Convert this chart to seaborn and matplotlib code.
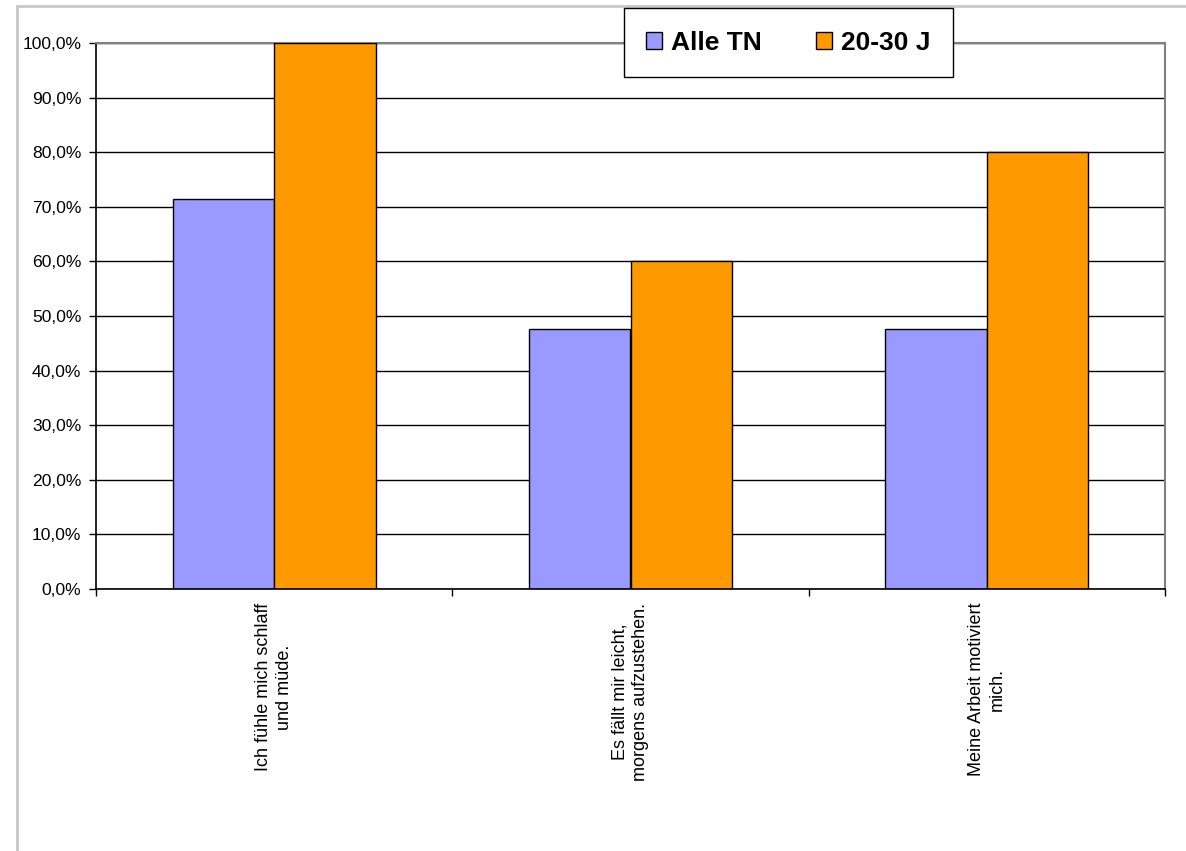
import matplotlib
matplotlib.use("Agg")
import matplotlib.pyplot as plt
import matplotlib.patches as mpatches
import seaborn as sns
import pandas as pd

categories = ["Ich fühle mich schlaff\nund müde.",
              "Es fällt mir leicht,\nmorgens aufzustehen.",
              "Meine Arbeit motiviert\nmich."]
series_names = ["Alle TN", "20-30 J"]
alle_tn = [71.4, 47.6, 47.6]
j20_30 = [100.0, 60.0, 80.0]
colors = ["#9999ff", "#ff9900"]

df = pd.DataFrame({
    "Aussage": categories * 2,
    "Gruppe": [series_names[0]] * 3 + [series_names[1]] * 3,
    "Anteil": alle_tn + j20_30,
})

sns.set_style("white")
plt.rcParams["font.family"] = ["Liberation Sans", "DejaVu Sans"]
plt.rcParams["text.color"] = "black"
plt.rcParams["xtick.color"] = "black"
plt.rcParams["ytick.color"] = "black"

fig = plt.figure(figsize=(11.86, 8.51), dpi=100)
ax = fig.add_axes([96 / 1186, 1 - 589 / 851, (1165 - 96) / 1186, (589 - 43) / 851])

sns.barplot(data=df, x="Aussage", y="Anteil", hue="Gruppe", palette=colors,
            width=0.57, gap=0, edgecolor="black", linewidth=1, saturation=1,
            ax=ax, zorder=3)

ax.set_xlim(-0.5, 2.5)
ax.set_ylim(0, 100)
yt = list(range(0, 101, 10))
ax.set_yticks(yt)
ax.set_yticklabels([f"{v:.1f}%".replace(".", ",") for v in yt], fontsize=12.6)
ax.yaxis.grid(True, color="black", linewidth=1, zorder=0)
ax.set_axisbelow(True)
ax.tick_params(axis="y", length=5, width=1, color="black", left=True, pad=5.5)

ax.set_xticks([0, 1, 2])
ax.set_xticklabels(categories, rotation=90, fontsize=13, ha="center", va="top",
                   multialignment="center", linespacing=1.28)
ax.set_xticks([-0.5, 0.5, 1.5, 2.5], minor=True)
ax.tick_params(axis="x", which="major", length=0, pad=10)
ax.tick_params(axis="x", which="minor", length=5, width=1, color="black", bottom=True)

ax.set_xlabel("")
ax.set_ylabel("")
for s in ["left", "bottom"]:
    ax.spines[s].set_color("black")
    ax.spines[s].set_linewidth(1.2)
for s in ["top", "right"]:
    ax.spines[s].set_color("#808080")
    ax.spines[s].set_linewidth(1.5)
ax.spines["bottom"].set_zorder(4)

# outer chart border
fig.patches.append(mpatches.Rectangle((17 / 1186, -0.1), 1.2, 1 - 6 / 851 + 0.1,
                                      transform=fig.transFigure, fill=False,
                                      edgecolor="#c8c8c8", linewidth=2, zorder=0))

ax.get_legend().remove()
handles = [mpatches.Patch(facecolor=c, edgecolor="black", linewidth=1) for c in colors]
leg = fig.legend(handles, series_names, ncol=2, loc="center",
                 bbox_to_anchor=((622 + 955) / 2 / 1186, 1 - 42.5 / 851),
                 prop={"weight": "bold", "size": 19}, frameon=True, fancybox=False,
                 handlelength=0.6, handleheight=0.6, handletextpad=0.35,
                 columnspacing=2.05, borderpad=0.85, borderaxespad=0)
leg.get_frame().set_edgecolor("black")
leg.get_frame().set_linewidth(1)
leg.get_frame().set_alpha(1)
leg.set_zorder(10)

fig.savefig("out.png", dpi=100, facecolor="white")
